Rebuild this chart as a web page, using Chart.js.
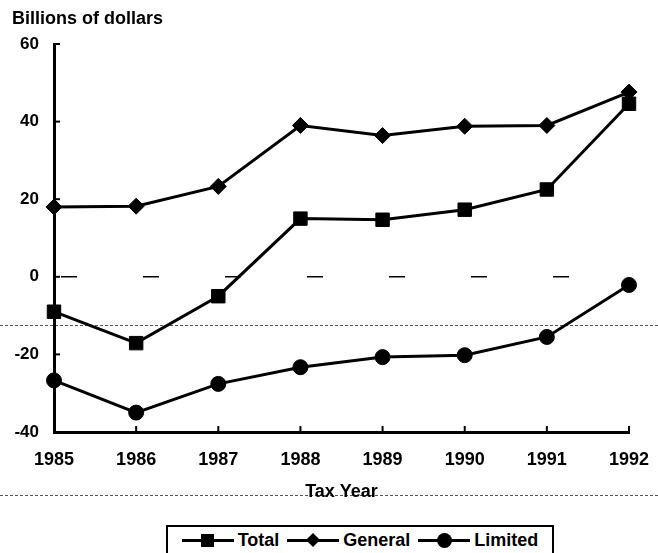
<!DOCTYPE html>
<html lang="en">
<head>
  <meta charset="UTF-8" />
  <title>Billions of dollars by tax year</title>
  <script src="https://cdn.jsdelivr.net/npm/chart.js"></script>
  <style>
    html, body { margin: 0; padding: 0; background: #fff; }
    #wrap { position: relative; width: 658px; height: 553px; overflow: hidden; font-family: "Liberation Sans", Arial, sans-serif; }
    #chart { position: absolute; left: 0; top: 0; z-index: 2; }
    .title { position: absolute; left: 12px; top: 8px; font-weight: bold; font-size: 18px; color: #000; z-index: 3; }
    .scan { position: absolute; left: 0; width: 658px; border-top: 1px dashed #555; z-index: 1; }
    #legend { position: absolute; left: 166px; top: 525px; width: 388px; height: 30px; border: 2px solid #000; box-sizing: border-box;
      display: flex; align-items: center; justify-content: center; gap: 8px; font-weight: bold; font-size: 18px; z-index: 3; background: #fff; }
    .item { display: flex; align-items: center; gap: 4px; }
    .sym { position: relative; width: 52px; height: 16px; }
    .sym .ln { position: absolute; left: 0; right: 0; top: 7px; height: 3px; background: #000; }
    .sym .mk { position: absolute; left: 50%; top: 50%; background: #000; }
  </style>
</head>
<body>
  <div id="wrap">
    <div class="title">Billions of dollars</div>
    <div class="scan" style="top:325px;"></div>
    <div class="scan" style="top:495px;"></div>
    <canvas id="chart" width="658" height="553"></canvas>
    <div id="legend"></div>
  </div>

  <script>
    // values
    const years = ["1985", "1986", "1987", "1988", "1989", "1990", "1991", "1992"];
    const total = [-9, -17.1, -5, 15, 14.7, 17.3, 22.5, 44.6];
    const general = [18, 18.2, 23.3, 39, 36.4, 38.8, 39, 47.6];
    const limited = [-26.7, -35, -27.6, -23.3, -20.7, -20.2, -15.5, -2.1];
    const seriesNames = ["Total", "General", "Limited"];
    const yTicks = [-40, -20, 0, 20, 40, 60];

    const markers = ["rect", "rectRot", "circle"];
    const radii = [9.5, 8, 7.5];

    // legend (line + marker like the original)
    const legend = document.getElementById("legend");
    seriesNames.forEach((name, i) => {
      const item = document.createElement("div");
      item.className = "item";
      let mk = "";
      if (i === 0) mk = '<div class="mk" style="width:13px;height:13px;margin:-6.5px 0 0 -6.5px;"></div>';
      if (i === 1) mk = '<div class="mk" style="width:10px;height:10px;margin:-5px 0 0 -5px;transform:rotate(45deg);"></div>';
      if (i === 2) mk = '<div class="mk" style="width:15px;height:15px;margin:-7.5px 0 0 -7.5px;border-radius:50%;"></div>';
      item.innerHTML = '<div class="sym"><div class="ln"></div>' + mk + '</div><span>' + name + '</span>';
      legend.appendChild(item);
    });

    // small inward tick marks + faint dashes on the zero line
    const innerTicks = {
      id: "innerTicks",
      afterDraw(chart) {
        const ctx = chart.ctx;
        const x = chart.scales.x, y = chart.scales.y;
        const area = chart.chartArea;
        ctx.save();
        ctx.strokeStyle = "#000";
        ctx.lineWidth = 2;
        for (let i = 1; i < years.length; i++) {
          const px = x.getPixelForValue(i);
          ctx.beginPath();
          ctx.moveTo(px, area.bottom);
          ctx.lineTo(px, area.bottom - 6);
          ctx.stroke();
        }
        yTicks.forEach(v => {
          if (v === -40) return;
          const py = y.getPixelForValue(v);
          ctx.beginPath();
          ctx.moveTo(area.left, py);
          ctx.lineTo(area.left + 6, py);
          ctx.stroke();
        });
        const z = y.getPixelForValue(0);
        ctx.setLineDash([16, 66]);
        ctx.lineDashOffset = 75;
        ctx.lineWidth = 1.5;
        ctx.beginPath();
        ctx.moveTo(area.left, z);
        ctx.lineTo(area.right, z);
        ctx.stroke();
        ctx.restore();
      }
    };

    const data = [total, general, limited];

    new Chart(document.getElementById("chart"), {
      type: "line",
      data: {
        labels: years,
        datasets: seriesNames.map((name, i) => ({
          label: name,
          data: data[i],
          borderColor: "#000",
          backgroundColor: "#000",
          borderWidth: 3,
          pointStyle: markers[i],
          pointRadius: radii[i],
          pointHoverRadius: radii[i],
          pointBorderWidth: 1,
          tension: 0
        }))
      },
      options: {
        responsive: false,
        animation: false,
        layout: { padding: { top: 44, right: 29, bottom: 0, left: 0 } },
        plugins: {
          legend: { display: false },
          tooltip: { enabled: false }
        },
        scales: {
          x: {
            grid: { display: true, drawOnChartArea: false, drawTicks: false },
            border: { color: "#000", width: 3 },
            ticks: {
              color: "#000",
              padding: 17,
              maxRotation: 0,
              font: { family: "Liberation Sans", size: 18, weight: "bold" }
            },
            title: {
              display: true,
              text: "Tax Year",
              color: "#000",
              padding: { top: 4, bottom: 50 },
              font: { family: "Liberation Sans", size: 18, weight: "bold" }
            },
            afterFit(scale) {
              scale.height = 121;
              scale.paddingLeft = 0;
              scale.paddingRight = 0;
            }
          },
          y: {
            min: -40,
            max: 60,
            afterBuildTicks(scale) { scale.ticks = yTicks.map(v => ({ value: v })); },
            grid: { display: true, drawOnChartArea: false, drawTicks: false },
            border: { color: "#000", width: 3 },
            ticks: {
              color: "#000",
              padding: 15,
              font: { family: "Liberation Sans", size: 17, weight: "bold" }
            },
            afterFit(scale) { scale.width = 54; }
          }
        }
      },
      plugins: [innerTicks]
    });
  </script>
</body>
</html>
